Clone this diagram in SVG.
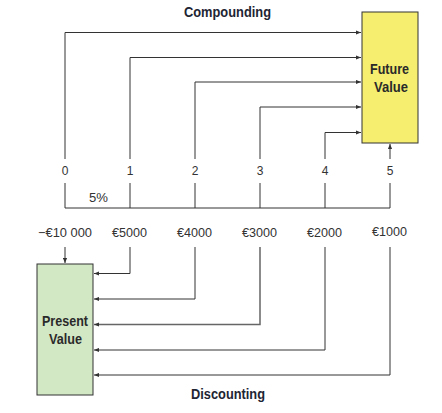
<svg xmlns="http://www.w3.org/2000/svg" width="442" height="413" viewBox="0 0 442 413">
<style>
.t{font-family:"Liberation Sans",Arial,sans-serif;fill:#222}
.h{font-size:15px;font-weight:bold;fill:#1e2533}
.b{font-size:15px;font-weight:bold;fill:#2a2a2a}
.n{font-size:12px;fill:#333}
.m{font-size:12.5px;fill:#333}
.c line,.c path{stroke:#333;stroke-width:1;fill:none}
</style>
<defs>
<marker id="a" viewBox="0 0 6 6" refX="6" refY="3" markerWidth="5" markerHeight="5" orient="auto" markerUnits="userSpaceOnUse">
<path d="M0,0.5 L6,3 L0,5.5 Z" fill="#333"/>
</marker>
</defs>
<rect width="442" height="413" fill="#fff"/>
<text class="t h" x="184" y="17" textLength="87" lengthAdjust="spacingAndGlyphs">Compounding</text>
<text class="t h" x="191" y="399" textLength="74" lengthAdjust="spacingAndGlyphs">Discounting</text>
<g id="future-value">
<rect x="362" y="12" width="56" height="131" fill="#f5ee6e" stroke="#333" stroke-width="1"/>
<text class="t b" x="370" y="74" textLength="39" lengthAdjust="spacingAndGlyphs">Future</text>
<text class="t b" x="374" y="92" textLength="34" lengthAdjust="spacingAndGlyphs">Value</text>
</g>
<g id="present-value">
<rect x="37" y="264" width="56" height="131" fill="#d2e7c4" stroke="#333" stroke-width="1"/>
<text class="t b" x="42" y="326" textLength="46" lengthAdjust="spacingAndGlyphs">Present</text>
<text class="t b" x="49" y="344" textLength="33" lengthAdjust="spacingAndGlyphs">Value</text>
</g>
<g id="timeline">
<text class="t n" x="65" y="175" text-anchor="middle">0</text>
<text class="t n" x="130" y="175" text-anchor="middle">1</text>
<text class="t n" x="195" y="175" text-anchor="middle">2</text>
<text class="t n" x="260" y="175" text-anchor="middle">3</text>
<text class="t n" x="325" y="175" text-anchor="middle">4</text>
<text class="t n" x="390" y="175" text-anchor="middle">5</text>
<text class="t m" x="89" y="202" textLength="19" lengthAdjust="spacingAndGlyphs">5%</text>
<text class="t m" x="38" y="237" textLength="54" lengthAdjust="spacingAndGlyphs">−€10 000</text>
<text class="t m" x="112" y="237" textLength="35" lengthAdjust="spacingAndGlyphs">€5000</text>
<text class="t m" x="177" y="237" textLength="35" lengthAdjust="spacingAndGlyphs">€4000</text>
<text class="t m" x="242" y="237" textLength="35" lengthAdjust="spacingAndGlyphs">€3000</text>
<text class="t m" x="307" y="237" textLength="35" lengthAdjust="spacingAndGlyphs">€2000</text>
<text class="t m" x="372" y="236" textLength="35" lengthAdjust="spacingAndGlyphs">€1000</text>
</g>
<g id="connectors" class="c">
<path d="M65,183 V208 H390 V183"/>
<line x1="130" y1="183" x2="130" y2="208"/>
<line x1="195" y1="183" x2="195" y2="208"/>
<line x1="260" y1="183" x2="260" y2="208"/>
<line x1="325" y1="183" x2="325" y2="208"/>
<path d="M65,159 V32.5 H361" marker-end="url(#a)"/>
<path d="M130,159 V57.5 H361" marker-end="url(#a)"/>
<path d="M195,159 V82 H361" marker-end="url(#a)"/>
<path d="M260,159 V107 H361" marker-end="url(#a)"/>
<path d="M325,159 V132.5 H361" marker-end="url(#a)"/>
<path d="M390,159 V144" marker-end="url(#a)"/>
<path d="M65,247 V263" marker-end="url(#a)"/>
<path d="M130,247 V273.5 H94" marker-end="url(#a)"/>
<path d="M195,247 V299 H94" marker-end="url(#a)"/>
<path d="M260,247 V324.5 H94" marker-end="url(#a)" style="stroke:#666;stroke-width:1.5"/>
<path d="M325,247 V350 H94" marker-end="url(#a)"/>
<path d="M390,247 V375 H94" marker-end="url(#a)"/>
</g>
</svg>
